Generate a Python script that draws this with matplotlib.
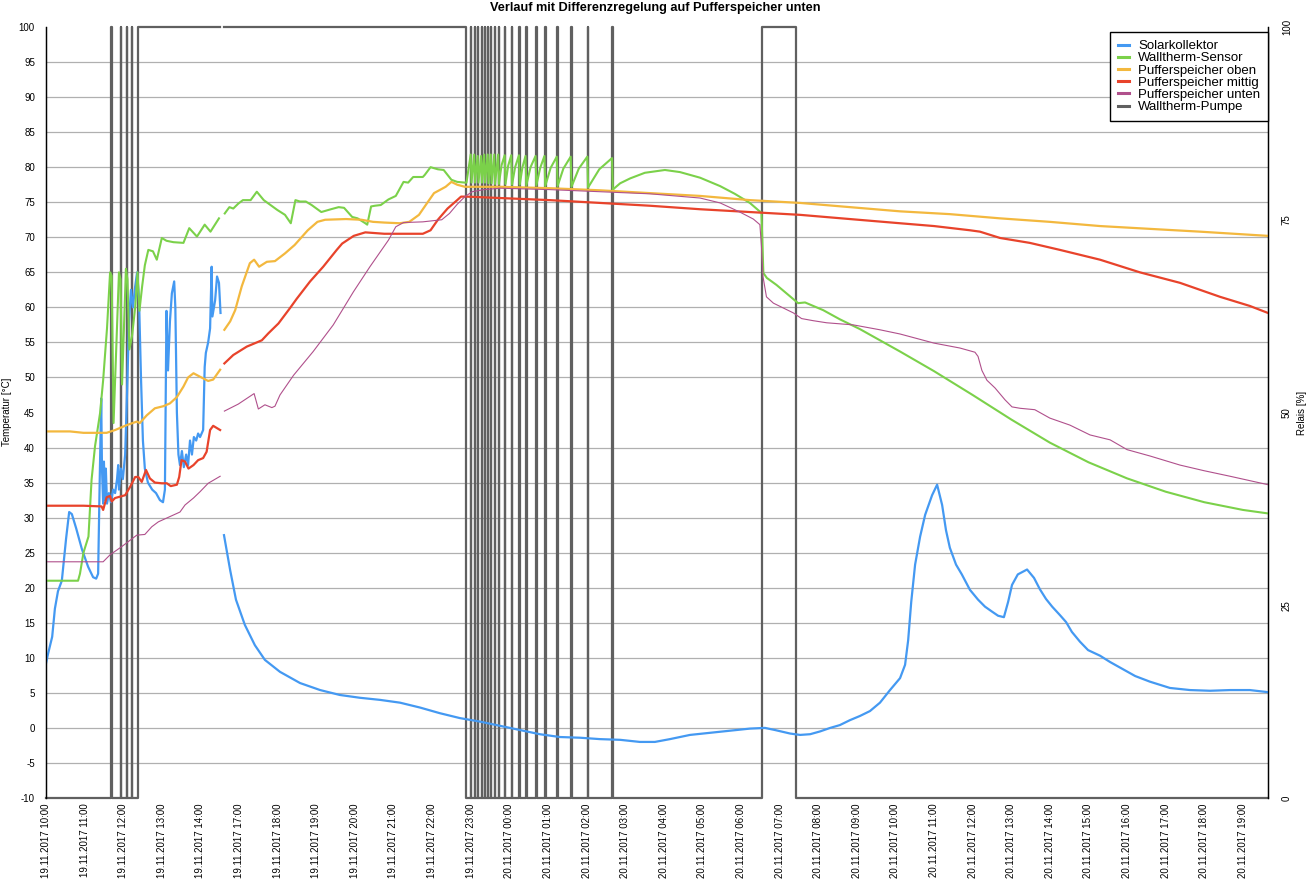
import numpy as np
import matplotlib
matplotlib.use('Agg')
import matplotlib.pyplot as plt

plt.rcParams['font.family'] = ['Liberation Sans', 'DejaVu Sans']
plt.rcParams['axes.unicode_minus'] = False

# x positions are in "axis hours" (one slot per tick label; the 14:00-17:00 gap is compressed)
tick_labels = (['19.11.2017 %02d:00' % h for h in [10, 11, 12, 13, 14, 17, 18, 19, 20, 21, 22, 23]] +
               ['20.11.2017 %02d:00' % h for h in range(0, 20)])
t_end = 31.65

solar_1 = [(0.00, 9.2), (0.05, 10.5), (0.16, 13.0), (0.23, 17.0), (0.31, 19.5), (0.41, 21.0), (0.52, 27.0),
           (0.60, 30.8), (0.67, 30.5), (0.78, 28.5), (0.93, 25.5), (1.09, 23.0), (1.22, 21.5), (1.30, 21.3),
           (1.35, 22.0), (1.39, 35.0), (1.43, 47.0), (1.45, 37.0), (1.48, 32.0), (1.50, 38.0), (1.53, 32.5),
           (1.55, 37.0), (1.58, 32.0), (1.63, 33.5), (1.68, 32.2), (1.74, 34.0), (1.79, 33.5), (1.84, 35.5),
           (1.87, 37.5), (1.89, 34.0), (1.94, 37.0), (1.99, 35.5), (2.05, 39.0), (2.10, 48.0), (2.15, 58.0),
           (2.20, 62.5), (2.25, 60.0), (2.31, 63.0), (2.36, 65.0), (2.41, 61.0), (2.46, 50.0), (2.51, 41.0),
           (2.56, 37.0), (2.64, 35.0), (2.75, 34.0), (2.85, 33.5), (2.95, 32.5), (3.03, 32.2), (3.08, 34.0),
           (3.12, 59.5), (3.16, 51.0), (3.21, 58.0), (3.26, 62.0), (3.32, 63.7), (3.35, 60.0), (3.39, 45.0),
           (3.43, 39.0), (3.47, 37.5), (3.52, 39.5), (3.57, 37.2), (3.63, 39.0), (3.68, 37.5), (3.73, 41.0),
           (3.78, 39.0), (3.83, 41.5), (3.89, 41.0), (3.94, 42.0), (3.99, 41.5), (4.07, 42.5), (4.11, 51.5),
           (4.14, 53.5), (4.20, 55.0), (4.25, 57.0), (4.29, 65.8), (4.31, 58.7), (4.38, 61.0), (4.43, 64.4),
           (4.48, 63.5), (4.52, 59.2)]
solar_2 = [(4.61, 27.5), (4.77, 22.5), (4.92, 18.3), (5.15, 14.7), (5.41, 11.8), (5.67, 9.7), (6.06, 8.0),
           (6.58, 6.4), (7.10, 5.4), (7.61, 4.7), (8.13, 4.3), (8.65, 4.0), (9.17, 3.6), (9.69, 2.9),
           (10.20, 2.1), (10.72, 1.4), (11.24, 0.9), (11.76, 0.3), (12.28, -0.3), (12.79, -0.9), (13.31, -1.3),
           (13.83, -1.4), (14.35, -1.6), (14.87, -1.7), (15.38, -2.0), (15.77, -2.0), (16.16, -1.6),
           (16.68, -1.0), (17.20, -0.7), (17.71, -0.4), (18.23, -0.1), (18.62, 0.0), (18.88, -0.3),
           (19.27, -0.8), (19.53, -1.0), (19.79, -0.9), (20.05, -0.5), (20.31, 0.0), (20.56, 0.4), (20.82, 1.1),
           (21.08, 1.7), (21.34, 2.4), (21.60, 3.6), (21.86, 5.4), (22.12, 7.1), (22.25, 9.0), (22.33, 12.5),
           (22.41, 18.0), (22.51, 23.3), (22.64, 27.3), (22.77, 30.4), (22.95, 33.2), (23.08, 34.7),
           (23.21, 31.8), (23.31, 28.2), (23.41, 25.7), (23.57, 23.3), (23.72, 21.9), (23.93, 19.7),
           (24.14, 18.3), (24.32, 17.3), (24.50, 16.6), (24.66, 16.0), (24.81, 15.8), (24.92, 18.0),
           (25.02, 20.4), (25.17, 21.9), (25.41, 22.6), (25.59, 21.4), (25.74, 19.8), (25.90, 18.4),
           (26.06, 17.3), (26.26, 16.1), (26.42, 15.1), (26.57, 13.7), (26.78, 12.3), (26.99, 11.1),
           (27.30, 10.3), (27.56, 9.4), (27.82, 8.6), (28.21, 7.4), (28.59, 6.6), (29.11, 5.7), (29.63, 5.4),
           (30.15, 5.3), (30.67, 5.4), (31.18, 5.4), (31.65, 5.1)]

walltherm_1 = [(0.00, 21.0), (0.83, 21.0), (0.88, 22.0), (0.97, 25.0), (1.10, 27.3), (1.18, 35.4), (1.27, 40.2),
               (1.40, 44.9), (1.48, 49.6), (1.58, 57.0), (1.66, 65.0), (1.70, 64.5), (1.75, 43.5), (1.89, 65.0),
               (1.93, 64.0), (1.97, 49.0), (2.07, 65.5), (2.11, 64.0), (2.16, 54.0), (2.23, 56.0), (2.31, 60.0),
               (2.37, 65.0), (2.42, 59.5), (2.49, 63.0), (2.56, 66.0), (2.65, 68.2), (2.77, 68.0), (2.87, 66.8),
               (3.00, 69.9), (3.12, 69.5), (3.30, 69.3), (3.56, 69.2), (3.71, 71.3), (3.91, 70.1), (4.11, 71.8),
               (4.26, 70.8), (4.48, 72.7)]
walltherm_2 = [(4.63, 73.4), (4.75, 74.3), (4.85, 74.1), (4.98, 74.8), (5.10, 75.3), (5.30, 75.3), (5.46, 76.5),
               (5.64, 75.3), (5.99, 73.9), (6.19, 73.2), (6.34, 72.0), (6.46, 75.3), (6.58, 75.1), (6.73, 75.1),
               (6.88, 74.6), (7.13, 73.6), (7.38, 74.0), (7.58, 74.3), (7.72, 74.2), (7.93, 72.9), (8.07, 72.7),
               (8.27, 72.0), (8.32, 71.8), (8.42, 74.4), (8.52, 74.5), (8.67, 74.6), (8.87, 75.4), (9.06, 75.9),
               (9.26, 77.9), (9.38, 77.8), (9.51, 78.6), (9.76, 78.6), (9.81, 78.9), (9.96, 80.0), (10.15, 79.7),
               (10.30, 79.6), (10.50, 78.2), (10.65, 77.9), (10.85, 77.8), (10.89, 77.8),
               (11.00, 81.8), (11.02, 77.8), (11.09, 81.8), (11.11, 77.8), (11.18, 81.6), (11.20, 77.8),
               (11.27, 81.6), (11.29, 77.8), (11.35, 81.8), (11.37, 77.8), (11.44, 81.8), (11.46, 77.7),
               (11.52, 81.8), (11.54, 77.7), (11.61, 81.8), (11.63, 77.6), (11.71, 81.8), (11.73, 77.6),
               (11.80, 80.3), (11.88, 81.7), (11.90, 77.6), (11.97, 80.2), (12.05, 81.7), (12.07, 77.5),
               (12.15, 80.0), (12.25, 81.7), (12.27, 77.5), (12.34, 80.0), (12.42, 81.6), (12.44, 77.4),
               (12.55, 80.0), (12.68, 81.6), (12.70, 77.4), (12.80, 79.9), (12.91, 81.6), (12.93, 77.3),
               (13.07, 79.9), (13.23, 81.5), (13.25, 77.3), (13.40, 79.8), (13.59, 81.5), (13.61, 77.2),
               (13.80, 79.8), (14.02, 81.5), (14.04, 77.1), (14.33, 79.7), (14.66, 81.3), (14.68, 76.8),
               (14.87, 77.7), (15.13, 78.4), (15.51, 79.2), (16.03, 79.6), (16.42, 79.3), (16.94, 78.5),
               (17.46, 77.3), (17.84, 76.2), (18.23, 74.9), (18.44, 73.9), (18.53, 73.5), (18.58, 64.9),
               (18.67, 64.2), (18.92, 63.2), (19.18, 62.0), (19.48, 60.6), (19.66, 60.7), (19.83, 60.3),
               (20.13, 59.6), (20.56, 58.3), (21.08, 56.9), (21.73, 54.9), (22.12, 53.7), (23.00, 50.9),
               (24.00, 47.5), (25.00, 44.0), (26.00, 40.7), (27.00, 37.9), (28.00, 35.6), (29.00, 33.7),
               (30.00, 32.2), (31.00, 31.1), (31.65, 30.6)]

oben_1 = [(0.00, 42.3), (0.62, 42.3), (0.97, 42.1), (1.57, 42.1), (1.79, 42.5), (2.09, 43.2), (2.35, 43.7),
          (2.43, 43.5), (2.61, 44.6), (2.82, 45.6), (3.04, 45.9), (3.21, 46.3), (3.39, 47.2), (3.56, 48.7),
          (3.68, 50.0), (3.82, 50.6), (3.99, 50.1), (4.20, 49.5), (4.33, 49.7), (4.51, 51.1)]
oben_2 = [(4.62, 56.8), (4.77, 58.0), (4.90, 59.6), (5.07, 63.0), (5.28, 66.3), (5.39, 66.8), (5.52, 65.8),
          (5.72, 66.5), (5.93, 66.6), (6.19, 67.7), (6.44, 68.9), (6.78, 71.0), (7.03, 72.2), (7.23, 72.5),
          (7.77, 72.6), (8.17, 72.5), (8.47, 72.2), (8.76, 72.1), (9.16, 72.0), (9.41, 72.2), (9.66, 73.2),
          (9.86, 74.8), (10.05, 76.3), (10.35, 77.2), (10.50, 77.9), (10.65, 77.5), (10.85, 77.2),
          (11.76, 77.2), (13.05, 77.0), (14.35, 76.7), (15.64, 76.3), (16.94, 75.9), (18.23, 75.3),
          (19.53, 74.9), (20.82, 74.3), (22.12, 73.7), (23.41, 73.3), (24.71, 72.7), (26.00, 72.2),
          (27.30, 71.6), (28.59, 71.2), (29.89, 70.8), (31.65, 70.2)]

mittig_1 = [(0.00, 31.7), (0.97, 31.7), (1.44, 31.6), (1.48, 31.1), (1.57, 32.9), (1.66, 33.1), (1.70, 32.3),
            (1.79, 32.8), (1.92, 33.0), (2.05, 33.2), (2.18, 34.4), (2.31, 35.8), (2.39, 35.8), (2.48, 35.1),
            (2.59, 36.8), (2.69, 35.6), (2.82, 35.0), (3.00, 34.9), (3.13, 34.9), (3.23, 34.5), (3.39, 34.7),
            (3.45, 35.8), (3.51, 38.2), (3.60, 38.0), (3.69, 37.0), (3.82, 37.5), (3.94, 38.2), (4.07, 38.5),
            (4.16, 39.4), (4.25, 42.5), (4.33, 43.1), (4.51, 42.5)]
mittig_2 = [(4.62, 52.0), (4.85, 53.2), (5.20, 54.4), (5.59, 55.3), (5.76, 56.3), (6.02, 57.7), (6.32, 59.9),
            (6.49, 61.2), (6.84, 63.7), (7.18, 65.8), (7.53, 68.2), (7.67, 69.1), (7.97, 70.2), (8.27, 70.7),
            (8.76, 70.5), (9.76, 70.5), (9.96, 71.0), (10.15, 72.5), (10.40, 74.1), (10.65, 75.3),
            (10.75, 75.8), (10.90, 75.8), (11.76, 75.6), (13.05, 75.3), (14.35, 74.9), (15.64, 74.5),
            (16.94, 74.0), (18.23, 73.6), (19.53, 73.2), (20.82, 72.6), (22.12, 72.0), (23.00, 71.6),
            (23.93, 71.0), (24.19, 70.8), (24.71, 69.9), (25.48, 69.2), (26.26, 68.2), (27.30, 66.8),
            (28.33, 65.0), (29.37, 63.5), (30.41, 61.5), (31.18, 60.2), (31.65, 59.2)]

unten_1 = [(0.00, 23.7), (1.48, 23.7), (1.66, 24.7), (1.97, 25.9), (2.35, 27.5), (2.56, 27.6), (2.74, 28.7),
           (2.91, 29.4), (3.39, 30.6), (3.47, 30.8), (3.60, 31.8), (3.82, 32.8), (3.99, 33.7), (4.20, 34.9),
           (4.51, 35.9)]
unten_2 = [(4.62, 45.2), (4.98, 46.2), (5.39, 47.7), (5.50, 45.5), (5.67, 46.1), (5.85, 45.7), (5.93, 45.9),
           (6.06, 47.5), (6.41, 50.3), (6.92, 53.7), (7.44, 57.5), (7.96, 62.2), (8.39, 65.8), (8.87, 69.6),
           (9.06, 71.5), (9.26, 72.1), (9.76, 72.2), (10.25, 72.5), (10.45, 73.4), (10.65, 74.7),
           (10.85, 75.8), (11.04, 76.5), (11.34, 76.8), (11.76, 77.0), (13.05, 76.8), (14.35, 76.5),
           (15.64, 76.2), (16.94, 75.6), (17.46, 74.9), (17.97, 73.6), (18.32, 72.6), (18.49, 71.8),
           (18.53, 68.7), (18.57, 64.4), (18.66, 61.5), (18.84, 60.6), (19.10, 59.9), (19.36, 59.2),
           (19.57, 58.4), (19.87, 58.1), (20.22, 57.8), (20.91, 57.5), (21.60, 56.8), (22.12, 56.2),
           (23.00, 54.9), (23.67, 54.2), (24.06, 53.6), (24.14, 53.0), (24.24, 51.0), (24.37, 49.6),
           (24.58, 48.5), (24.84, 46.8), (25.02, 45.8), (25.23, 45.6), (25.61, 45.4), (26.00, 44.2),
           (26.52, 43.2), (27.04, 41.8), (27.56, 41.1), (28.00, 39.7), (28.59, 38.8), (29.37, 37.5),
           (29.99, 36.7), (30.67, 35.9), (31.65, 34.7)]

# Walltherm-Pumpe relay state [%] (step changes)
pump_t = [0.00, 1.68, 1.70, 1.93, 1.95, 2.09, 2.11, 2.22, 2.24, 2.37, 4.51, 4.61, 10.89,
          11.01, 11.01, 11.10, 11.10, 11.19, 11.19, 11.28, 11.28, 11.36, 11.36, 11.45, 11.45,
          11.53, 11.53, 11.62, 11.62, 11.72, 11.72, 11.89, 11.90, 12.06, 12.07, 12.26, 12.27,
          12.43, 12.45, 12.69, 12.71, 12.92, 12.94, 13.24, 13.26, 13.60, 13.62, 14.03, 14.05,
          14.67, 14.69, 18.55, 19.43, 31.65]
pump_v = [0, 100, 0, 100, 0, 100, 0, 100, 0, 100, np.nan, 100, 0,
          100, 0, 100, 0, 100, 0, 100, 0, 100, 0, 100, 0,
          100, 0, 100, 0, 100, 0, 100, 0, 100, 0, 100, 0,
          100, 0, 100, 0, 100, 0, 100, 0, 100, 0, 100, 0,
          100, 0, 100, 0, 0]


def join(*segs):
    xs, ys = [], []
    for i, s in enumerate(segs):
        if i:
            xs.append(np.nan); ys.append(np.nan)
        xs += [p[0] for p in s]; ys += [p[1] for p in s]
    return np.array(xs), np.array(ys)


W, H = 1309, 881
fig = plt.figure(figsize=(W / 100, H / 100), dpi=100)
ax = fig.add_axes([46 / W, 1 - 798 / H, (1268 - 46) / W, (798 - 27) / H])
ax2 = ax.twinx()
ax.set_zorder(ax2.get_zorder() + 1)
ax.patch.set_visible(False)

c_sol, c_wt, c_ob, c_mi, c_un, c_pu = '#4499f2', '#7bd14a', '#f3b83e', '#e8432b', '#b0508c', '#606060'

temp_lo, temp_hi = -10, 100
ax.set_xlim(0, t_end)
ax.set_ylim(temp_lo, temp_hi)
ax2.set_ylim(0, 100)
temp_ticks = np.arange(temp_lo, temp_hi + 1, 5)
ax.set_yticks(temp_ticks)
ax2.set_yticks([0, 25, 50, 75, 100])
# horizontal grid at the temperature ticks, drawn on the relay axis so it stays beneath the pump line
ax2.set_yticks((temp_ticks - temp_lo) / (temp_hi - temp_lo) * 100, minor=True)
ax2.grid(which='minor', axis='y', color='#b0b0b0', lw=0.9)
ax2.set_axisbelow(True)

lp, = ax2.plot(pump_t, pump_v, drawstyle='steps-post', color=c_pu, lw=1.6, clip_on=False,
               label='Walltherm-Pumpe')
l1, = ax.plot(*join(solar_1, solar_2), color=c_sol, lw=1.6, label='Solarkollektor')
l2, = ax.plot(*join(walltherm_1, walltherm_2), color=c_wt, lw=1.5, label='Walltherm-Sensor')
l3, = ax.plot(*join(oben_1, oben_2), color=c_ob, lw=1.6, label='Pufferspeicher oben')
l4, = ax.plot(*join(mittig_1, mittig_2), color=c_mi, lw=1.6, label='Pufferspeicher mittig')
l5, = ax.plot(*join(unten_1, unten_2), color=c_un, lw=0.8, label='Pufferspeicher unten')

ax.set_xticks(np.arange(len(tick_labels)))
ax.set_xticklabels(tick_labels, rotation=90, fontsize=7)
ax.tick_params(axis='both', length=0, labelsize=7)
ax.tick_params(axis='y', pad=8)
ax.tick_params(axis='x', pad=4)
ax2.tick_params(axis='y', which='both', length=0)
ax2.tick_params(axis='y', labelsize=7, pad=10, labelrotation=90)
for lab in ax2.get_yticklabels():
    lab.set_va('center')

for a in (ax, ax2):
    a.spines['left'].set_color('black')
    a.spines['right'].set_color('black')
    a.spines['top'].set_visible(False)
    a.spines['bottom'].set_visible(False)
    for s in a.spines.values():
        s.set_linewidth(0.9)

fig.text(655 / W, 1 - 8 / H, 'Verlauf mit Differenzregelung auf Pufferspeicher unten',
         ha='center', va='center', fontsize=9.2, fontweight='bold')
fig.text(7 / W, 1 - 412 / H, 'Temperatur [°C]', rotation=90, ha='center', va='center', fontsize=7)
fig.text(1302 / W, 1 - 413 / H, 'Relais [%]', rotation=90, ha='center', va='center', fontsize=7)

leg = ax.legend([l1, l2, l3, l4, l5, lp],
                [h.get_label() for h in [l1, l2, l3, l4, l5, lp]],
                loc='upper right', bbox_to_anchor=(1.0, 1 - 5 / 771), borderaxespad=0,
                fancybox=False, edgecolor='black', framealpha=1, fontsize=9.5,
                handlelength=0.85, handletextpad=0.7, labelspacing=0.0, borderpad=0.6)
leg.get_frame().set_linewidth(1.0)
for h in leg.get_lines():
    h.set_linewidth(2.2)

fig.savefig('out.png', dpi=100)
